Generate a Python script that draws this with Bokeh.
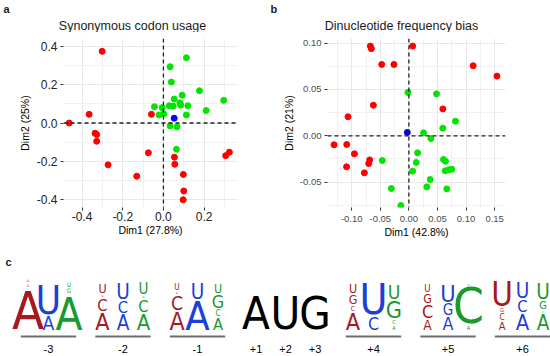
from bokeh.plotting import figure
from bokeh.models import Range1d, FixedTicker, PrintfTickFormatter, Span, Label, ColumnDataSource
from bokeh.layouts import row, column
from bokeh.embed import file_html
from bokeh.resources import INLINE
from bokeh.core.properties import value, field

FONT = "Liberation Sans"
LOGO_FONT = "DejaVu Sans Condensed, Liberation Sans"

# ---------------- panel a: synonymous codon usage ----------------
a_red_x = [-0.301, -0.365, -0.463, -0.336, -0.328, -0.328, -0.272, -0.131, -0.074, -0.059,
           0.054, 0.056, 0.098, 0.306, 0.324, 0.100, 0.097]
a_red_y = [0.373, 0.045, 0.000, -0.053, -0.060, -0.095, -0.218, -0.277, -0.155, 0.045,
           -0.178, -0.215, -0.268, -0.170, -0.152, -0.354, -0.400]
a_green_x = [0.113, 0.033, 0.039, 0.177, 0.092, 0.296, 0.053, 0.081, 0.085, 0.120, 0.029,
             0.048, -0.044, -0.006, 0.210, 0.002, -0.021, 0.113, 0.033, 0.067, 0.064]
a_green_y = [0.340, 0.293, 0.213, 0.168, 0.145, 0.118, 0.125, 0.105, 0.093, 0.090, 0.090,
             0.088, 0.085, 0.080, 0.065, 0.048, 0.042, 0.042, -0.015, -0.020, -0.137]
a_blue_x = [0.053]
a_blue_y = [0.025]
a_xticks = [-0.4, -0.2, 0.0, 0.2]
a_xminor = [-0.5, -0.3, -0.1, 0.1, 0.3]
a_yticks = [-0.4, -0.2, 0.0, 0.2, 0.4]
a_yminor = [-0.3, -0.1, 0.1, 0.3]

# ---------------- panel b: dinucleotide frequency bias ----------------
b_red_x = [-0.0674, -0.0656, 0.0065, -0.0476, -0.0262, 0.1124, 0.1540, -0.0622, 0.0594,
           -0.1065, -0.1310, -0.1087, -0.0953, -0.0686, -0.0703, -0.1090, -0.0779]
b_red_y = [0.0968, 0.0940, 0.0968, 0.0770, 0.0770, 0.0756, 0.0644, 0.0330, 0.0290,
           0.0205, -0.0097, -0.0094, -0.0195, -0.0260, -0.0300, -0.0335, -0.0400]
b_green_x = [-0.0017, 0.0483, 0.0815, 0.0593, 0.0257, 0.0384, 0.0152, -0.0465, 0.0129,
             0.0605, 0.0640, 0.0065, 0.0635, 0.0700, 0.0750, 0.0373, -0.0308, 0.0314,
             0.0663, -0.0140]
b_green_y = [0.0468, 0.0453, 0.0158, 0.0082, 0.0032, -0.0030, -0.0184, -0.0267, -0.0288,
             -0.0256, -0.0274, -0.0382, -0.0378, -0.0367, -0.0360, -0.0472, -0.0569,
             -0.0551, -0.0573, -0.0753]
b_blue_x = [-0.0028]
b_blue_y = [0.0036]
b_xticks = [-0.10, -0.05, 0.0, 0.05, 0.10, 0.15]
b_xminor = [-0.125, -0.075, -0.025, 0.025, 0.075, 0.125]
b_yticks = [-0.05, 0.0, 0.05, 0.10]
b_yminor = [-0.075, -0.025, 0.025, 0.075]

titles = ["Synonymous codon usage", "Dinucleotide frequency bias"]
panel_tags = ["a", "b", "c"]

# ---------------- panel c: sequence logos (heights in bits) ----------------
codon_labels = ["-3", "-2", "-1", "+4", "+5", "+6"]
m3_letters = [["A", "C", "G", "U"], ["A", "U"], ["A", "C", "G", "U"]]
m3_bits = [[1.52, 0.04, 0.10, 0.10], [0.56, 1.12], [1.28, 0.04, 0.18, 0.18]]
m2_letters = [["A", "C", "G", "U"], ["A", "C", "U"], ["A", "C", "G", "U"]]
m2_bits = [[0.68, 0.48, 0.08, 0.36], [0.60, 0.48, 0.60], [0.64, 0.48, 0.08, 0.44]]
m1_letters = [["A", "C", "G", "U"], ["A", "U"], ["A", "C", "G", "U"]]
m1_bits = [[0.72, 0.56, 0.08, 0.24], [1.16, 0.60], [0.48, 0.24, 0.52, 0.36]]
start_letters = ["A", "U", "G"]
start_labels = ["+1", "+2", "+3"]
start_bits = [1.32, 1.32, 1.32]
p4_letters = [["A", "C", "G", "U"], ["C", "U"], ["A", "C", "G", "U"]]
p4_bits = [[0.68, 0.20, 0.36, 0.36], [0.52, 1.24], [0.16, 0.16, 0.68, 0.56]]
p5_letters = [["A", "C", "G", "U"], ["A", "G", "U"], ["A", "C", "G"]]
p5_bits = [[0.40, 0.52, 0.36, 0.28], [0.52, 0.44, 0.68], [0.16, 1.44, 0.08]]
p6_letters = [["A", "C", "G", "U"], ["A", "C", "U"], ["A", "C", "G", "U"]]
p6_bits = [[0.32, 0.24, 0.16, 0.96], [0.64, 0.48, 0.60], [0.60, 0.08, 0.32, 0.60]]

codon_letters = [m3_letters, m2_letters, m1_letters, p4_letters, p5_letters, p6_letters]
codon_bits = [m3_bits, m2_bits, m1_bits, p4_bits, p5_bits, p6_bits]

NT_COLORS = ["#A8191E", "#1C3FD8", "#1B9A2E"]
RED, GREEN, BLUE = "#FF0000", "#00E600", "#0000FF"


def style_scatter(p, xt, xm, yt, ym, fmt, tick_size, tick_color, xlabel, ylabel,
                  ylab_standoff, xlab_standoff, x_major_standoff):
    p.outline_line_color = None
    p.background_fill_color = "white"
    p.xaxis.ticker = FixedTicker(ticks=xt, minor_ticks=xm)
    p.yaxis.ticker = FixedTicker(ticks=yt, minor_ticks=ym)
    p.xaxis.formatter = PrintfTickFormatter(format=fmt)
    p.yaxis.formatter = PrintfTickFormatter(format=fmt)
    for ax in (p.xaxis, p.yaxis):
        ax.axis_line_color = None
        ax.major_tick_out = 3
        ax.major_tick_in = 0
        ax.major_tick_line_color = "#333333"
        ax.minor_tick_line_color = None
        ax.major_label_text_font = FONT
        ax.major_label_text_font_size = tick_size
        ax.major_label_text_color = tick_color
        ax.axis_label_text_font = FONT
        ax.axis_label_text_font_size = "10.5px"
        ax.axis_label_text_font_style = "normal"
        ax.axis_label_text_color = "#000000"
    p.yaxis.major_label_standoff = 2
    p.xaxis.major_label_standoff = x_major_standoff
    p.yaxis.axis_label_standoff = ylab_standoff
    p.xaxis.axis_label_standoff = xlab_standoff
    p.xaxis.axis_label = xlabel
    p.yaxis.axis_label = ylabel
    for g in (p.xgrid, p.ygrid):
        g.grid_line_color = "#E8E8E8"
        g.grid_line_width = 1
        g.minor_grid_line_color = "#F1F1F1"
        g.minor_grid_line_width = 1
    p.add_layout(Span(location=0, dimension="height", line_color="#222222", line_dash="4 3", line_width=1.3))
    p.add_layout(Span(location=0, dimension="width", line_color="#222222", line_dash="4 3", line_width=1.3))


def blank(p):
    p.outline_line_color = None
    p.xgrid.visible = False
    p.ygrid.visible = False


def text_label(p, x, y, text, size, bold=False, align="center", units="screen"):
    p.add_layout(Label(x=x, y=y, x_units=units, y_units=units, text=text, text_font=FONT,
                       text_font_size=size, text_font_style="bold" if bold else "normal",
                       text_color="#1A1A1A", text_baseline="middle", text_align=align))


# ---- header strip with titles and panel tags (page px 0..32)
H_H = 32
pH = figure(width=550, height=H_H, x_range=Range1d(0, 550), y_range=Range1d(H_H, 0),
            x_axis_type=None, y_axis_type=None, output_backend="svg", toolbar_location=None,
            min_border=0, title=None)
blank(pH)
text_label(pH, 132, 25, titles[0], "12.5px", units="data")
text_label(pH, 401, 25, titles[1], "12.5px", units="data")
text_label(pH, 3, 8.5, panel_tags[0], "11px", bold=True, align="left", units="data")
text_label(pH, 270, 8.5, panel_tags[1], "11px", bold=True, align="left", units="data")

# ---- panel a  (frame: x 63..237, y 32..208 on the page)
pA = figure(width=275, height=208, x_range=Range1d(-0.491, 0.364), y_range=Range1d(-0.44, 0.44),
            output_backend="svg", toolbar_location=None, title=None,
            min_border_left=63, min_border_right=38, min_border_top=0, min_border_bottom=32)
style_scatter(pA, a_xticks, a_xminor, a_yticks, a_yminor, "%.1f", "12px", "#222222",
              "Dim1 (27.8%)", "Dim2 (25%)", 3, 0, 0)
pA.scatter(a_red_x, a_red_y, size=6, color=RED)
pA.scatter(a_green_x, a_green_y, size=6, color=GREEN)
pA.scatter(a_blue_x, a_blue_y, size=6, color=BLUE)

# ---- panel b  (frame: x 327..505, y 38..207 on the page)
pB = figure(width=275, height=208, x_range=Range1d(-0.1424, 0.169), y_range=Range1d(-0.0774, 0.105),
            output_backend="svg", toolbar_location=None, title=None,
            min_border_left=52, min_border_right=45, min_border_top=6, min_border_bottom=33)
style_scatter(pB, b_xticks, b_xminor, b_yticks, b_yminor, "%.2f", "9.5px", "#4D4D4D",
              "Dim1 (42.8%)", "Dim2 (21%)", 2, 1, 4)
pB.scatter(b_red_x, b_red_y, size=6, color=RED)
pB.scatter(b_green_x, b_green_y, size=6, color=GREEN)
pB.scatter(b_blue_x, b_blue_y, size=6, color=BLUE)

# ---- panel c (logo): x in slot units, y in bits
SLOT_PX = 20.5
CODON_GAP = 13.0 / SLOT_PX
START_STEP = 29.5 / SLOT_PX
START_GAP = 38.0 / SLOT_PX
PX_PER_BIT = 25.0
CAP = 0.729
MAX_W = 34.0
ADV = {"A": 0.616, "C": 0.629, "G": 0.698, "U": 0.659}
LETTER_GAP = 2.0 / PX_PER_BIT
C_W, C_H = 550, 116
x0 = -27.5 / SLOT_PX
y0 = -26.5 / PX_PER_BIT
pC = figure(width=C_W, height=C_H, x_range=Range1d(x0, x0 + C_W / SLOT_PX),
            y_range=Range1d(y0, y0 + C_H / PX_PER_BIT), x_axis_type=None, y_axis_type=None,
            output_backend="svg", toolbar_location=None, min_border=0, title=None)
blank(pC)

codon_x = []
pos = 0.0
for k in range(3):
    codon_x.append([pos, pos + 1, pos + 2])
    pos += 3 + CODON_GAP
pos = codon_x[-1][-1] + START_GAP
start_x = [pos, pos + START_STEP, pos + 2 * START_STEP]
pos = start_x[-1] + START_GAP
for k in range(3):
    codon_x.append([pos, pos + 1, pos + 2])
    pos += 3 + CODON_GAP

lx, ly, lt, lf, lc = [], [], [], [], []
for ci in range(6):
    for si in range(3):
        base = 0.0
        for letter, h in zip(codon_letters[ci][si], codon_bits[ci][si]):
            fs = min(h * PX_PER_BIT / CAP, MAX_W / ADV[letter])
            hv = fs * CAP / PX_PER_BIT
            lx.append(codon_x[ci][si]); ly.append(base + hv / 2); lt.append(letter)
            lf.append("%.2fpx" % fs); lc.append(NT_COLORS[si])
            base += hv + LETTER_GAP
for xs, letter, h in zip(start_x, start_letters, start_bits):
    lx.append(xs); ly.append(h / 2); lt.append(letter)
    lf.append("%.2fpx" % (h * PX_PER_BIT / CAP)); lc.append("#000000")

src = ColumnDataSource(dict(x=lx, y=ly, t=lt, fs=lf, c=lc))
pC.text(x="x", y="y", text="t", source=src, text_font=value(LOGO_FONT), text_font_size=field("fs"),
        text_color="c", text_align="center", text_baseline="middle")

UL_Y = -6.5 / PX_PER_BIT
LAB_Y = -18.5 / PX_PER_BIT
seg_x0 = [cx[0] - 0.35 for cx in codon_x]
seg_x1 = [cx[2] + 0.35 for cx in codon_x]
pC.segment(x0=seg_x0, y0=[UL_Y] * 6, x1=seg_x1, y1=[UL_Y] * 6, line_color="#6E6E6E", line_width=2)
lab_x = [cx[1] for cx in codon_x] + start_x
lab_t = codon_labels + start_labels
pC.text(x=lab_x, y=[LAB_Y] * len(lab_x), text=lab_t, text_font=value(FONT), text_font_size="11px",
        text_color="#000000", text_align="center", text_baseline="middle")
text_label(pC, 5, 94.5, panel_tags[2], "11px", bold=True, align="left")

layout = column(pH, row(pA, pB), pC)
open("out.html", "w").write(file_html(layout, INLINE))
